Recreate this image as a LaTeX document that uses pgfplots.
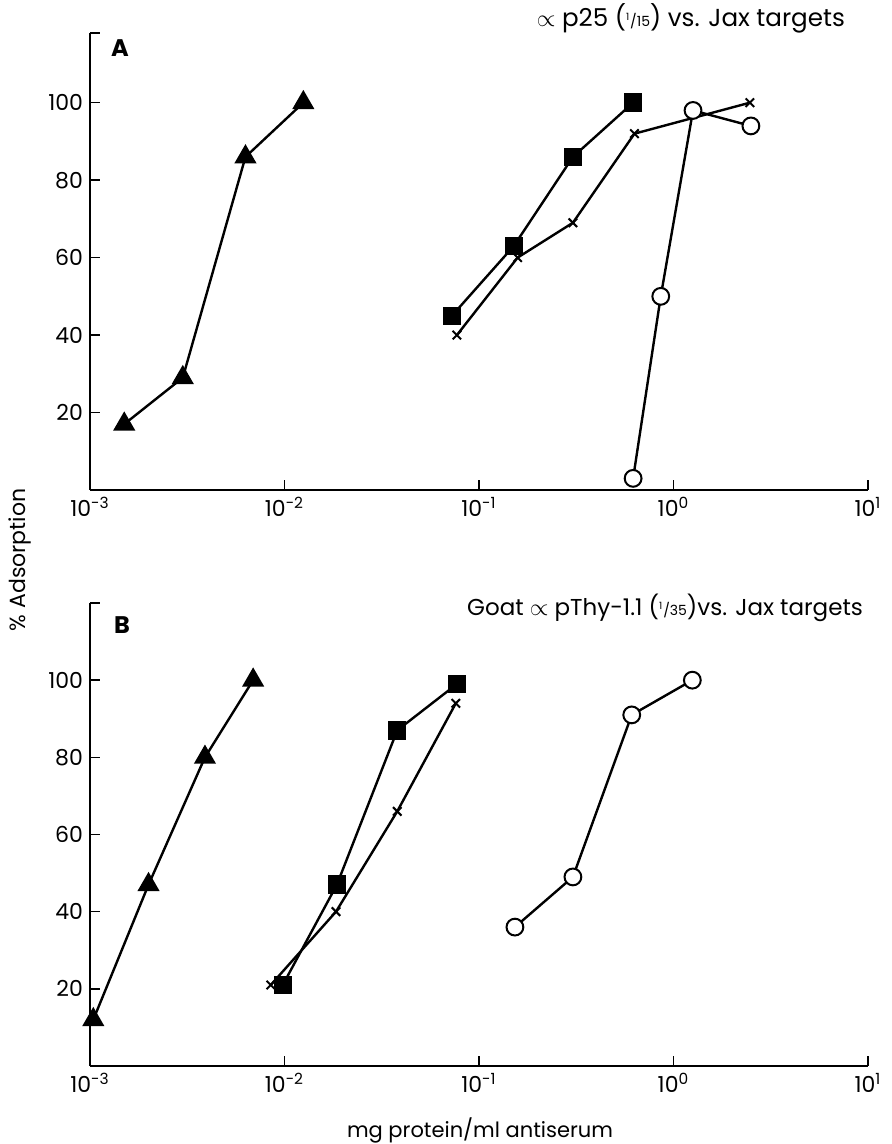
\documentclass[border=0pt]{standalone}
\usepackage{fontspec}
\setmainfont{Poppins}
\usepackage{pgfplots}
\pgfplotsset{compat=1.18}

\pgfplotsset{
  panel/.style={
    scale only axis, width=389pt,
    xmin=1e-3, xmax=10, ymin=0,
    axis x line*=bottom, axis y line*=left,
    axis line style={line width=1pt},
    xtick={1e-3,1e-2,1e-1,1,10},
    xticklabels={10\textsuperscript{-3},10\textsuperscript{-2},10\textsuperscript{-1},10\textsuperscript{0},10\textsuperscript{1}},
    ytick={20,40,60,80,100},
    yticklabels={20,40,60,80,100},
    minor tick style={draw=none},
    tick style={line width=0.8pt, black},
    major tick length=5pt,
    tick align=inside,
    ticklabel style={font=\fontsize{11}{13}\selectfont},
    every axis plot/.append style={line width=1.2pt, black},
  },
  tri/.style={mark=triangle*, mark size=5.2pt, mark options={solid}},
  sq/.style={mark=square*, mark size=4pt, mark options={solid}},
  cr/.style={mark=x, mark size=3pt, mark options={solid, line width=1pt}},
  ci/.style={mark=*, mark size=4.2pt, mark options={solid, fill=white, line width=1pt}},
}

\begin{document}
\begin{tikzpicture}
\useasboundingbox (0,0) rectangle (445.5pt,572pt);

% panel A
\begin{semilogxaxis}[panel, at={(45pt,327pt)}, anchor=south west,
  height=228.5pt, ymax=118, extra y ticks={118}, extra y tick labels={}]
\addplot[tri] coordinates {(0.0015,17) (0.003,29) (0.0063,86) (0.0125,100)};
\addplot[sq] coordinates {(0.0726,45) (0.151,63) (0.304,86) (0.62,100)};
\addplot[cr] coordinates {(0.077,40) (0.158,60) (0.304,69) (0.63,92) (2.47,100)};
\addplot[ci] coordinates {(0.62,3) (0.86,50) (1.26,98) (2.5,94)};
\end{semilogxaxis}

% panel B
\begin{semilogxaxis}[panel, at={(45pt,39pt)}, anchor=south west,
  height=231.5pt, ymax=120, extra y ticks={120}, extra y tick labels={}]
\addplot[tri] coordinates {(0.00104,12) (0.002,47) (0.0039,80) (0.0069,100)};
\addplot[cr] coordinates {(0.0085,21) (0.0184,40) (0.038,66) (0.076,94)};
\addplot[sq] coordinates {(0.0098,21) (0.0186,47) (0.038,87) (0.077,99)};
\addplot[ci] coordinates {(0.153,36) (0.304,49) (0.61,91) (1.25,100)};
\end{semilogxaxis}

\node[font=\fontsize{12}{14}\selectfont\bfseries] at (60pt,548pt) {A};
\node[font=\fontsize{12}{14}\selectfont\bfseries] at (61pt,259.5pt) {B};
\node[anchor=east, font=\fontsize{12.3}{14}\selectfont] at (426pt,563pt)
  {$\propto$ p25 ({\scriptsize\textsuperscript{1}/15}) vs. Jax targets};
\node[anchor=east, font=\fontsize{11.5}{13}\selectfont] at (435pt,268pt)
  {Goat $\propto$ pThy-1.1 ({\scriptsize\textsuperscript{1}/35})vs. Jax targets};
\node[rotate=90, font=\fontsize{11}{12}\selectfont] at (10pt,292pt) {\% Adsorption};
\node[font=\fontsize{10.5}{12}\selectfont] at (240pt,7pt) {mg protein/ml antiserum};
\end{tikzpicture}
\end{document}
